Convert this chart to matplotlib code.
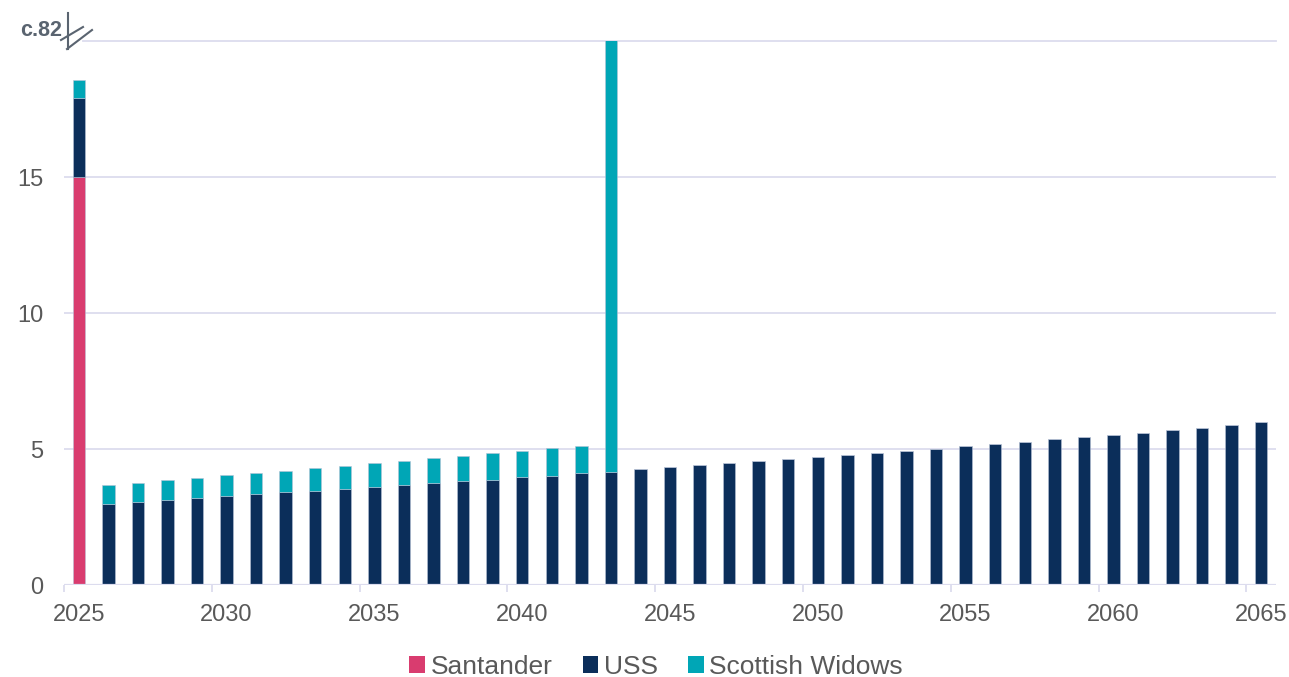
import matplotlib
matplotlib.use("Agg")
import matplotlib.pyplot as plt
from matplotlib.lines import Line2D
from matplotlib.patches import Patch
import numpy as np

plt.rcParams["font.family"] = ["Liberation Sans", "DejaVu Sans"]

W, H = 1289, 677

years = list(range(2025, 2066))
santander = [15.0] + [0.0] * 40
uss = [2.90, 2.98, 3.06, 3.14, 3.20, 3.27, 3.33, 3.41, 3.47, 3.54,
       3.61, 3.68, 3.74, 3.81, 3.87, 3.96, 4.02, 4.11, 4.17, 4.26,
       4.33, 4.40, 4.48, 4.55, 4.62, 4.70, 4.78, 4.85, 4.93, 5.01,
       5.10, 5.18, 5.26, 5.36, 5.43, 5.51, 5.60, 5.69, 5.77, 5.89, 5.98]
scottish_widows = [0.68, 0.70, 0.70, 0.71, 0.75, 0.76, 0.79, 0.79, 0.82, 0.84,
                   0.86, 0.88, 0.92, 0.93, 0.97, 0.97, 1.01, 1.01, 77.83] + [0.0] * 22
x_ticks = [2025, 2030, 2035, 2040, 2045, 2050, 2055, 2060, 2065]
y_ticks = [0, 5, 10, 15]
top_label = "c.82"

C_SAN = "#d93c6f"
C_USS = "#0b2e5a"
C_SW = "#00a6b6"
GRID = "#dcdcee"
TXT = "#595959"

fig = plt.figure(figsize=(W / 100, H / 100), dpi=100)
ax = fig.add_axes([64 / W, 1 - 585 / H, (1276 - 64) / W, (585 - 41) / H])

x = np.array(years) + 0.5
san = np.array(santander)
u = np.array(uss)
sw = np.array(scottish_widows)
bw = 0.42
ek = dict(edgecolor="#b8c2d6", linewidth=0.4)
ax.bar(x, san, width=bw, color=C_SAN, zorder=3, **ek)
ax.bar(x, u, width=bw, bottom=san, color=C_USS, zorder=3, **ek)
ax.bar(x, sw, width=bw, bottom=san + u, color=C_SW, zorder=3, **ek)

ax.set_xlim(2025, 2066)
ax.set_ylim(0, 20)

for v in [5, 10, 15]:
    ax.axhline(v, color=GRID, lw=1.3, zorder=1)
ax.axhline(0, color=GRID, lw=1.6, zorder=4)
ax.plot([2025.65, 2066], [20, 20], color=GRID, lw=1.3, zorder=1, clip_on=False)

for s in ax.spines.values():
    s.set_visible(False)

ax.set_yticks(y_ticks)
ax.set_yticklabels([str(t) for t in y_ticks])
ax.tick_params(axis="y", length=0, pad=15, labelsize=17, labelcolor=TXT)

# tick marks at year starts, labels centred on the year's bar
ax.set_xticks(x_ticks)
ax.set_xticklabels([])
ax.tick_params(axis="x", which="major", length=5, width=1.3, color=GRID)
ax.set_xticks([t + 0.5 for t in x_ticks], minor=True)
ax.set_xticklabels([str(t) for t in x_ticks], minor=True)
ax.tick_params(axis="x", which="minor", length=0, pad=14, labelsize=17, labelcolor=TXT)

fig.text(62 / W, 1 - 30 / H, top_label, ha="right", va="center", fontsize=15.5,
         fontweight="bold", color="#5a6470")

def pline(p1, p2):
    fig.add_artist(Line2D([p1[0] / W, p2[0] / W], [1 - p1[1] / H, 1 - p2[1] / H],
                          color="#5a6470", lw=1.5, transform=fig.transFigure))

pline((68, 13), (68, 49))
pline((61, 40), (83, 27))
pline((67, 49), (92, 30))

handles = [Patch(facecolor=C_SAN, label="Santander"),
           Patch(facecolor=C_USS, label="USS"),
           Patch(facecolor=C_SW, label="Scottish Widows")]
leg = fig.legend(handles=handles, loc="center", bbox_to_anchor=(656 / W, 1 - 667 / H),
                 ncol=3, frameon=False, fontsize=19, handlelength=0.6, handleheight=0.6,
                 handletextpad=0.2, columnspacing=1.15, labelcolor=TXT,
                 borderpad=0, borderaxespad=0)

fig.savefig("out.png", dpi=100)
